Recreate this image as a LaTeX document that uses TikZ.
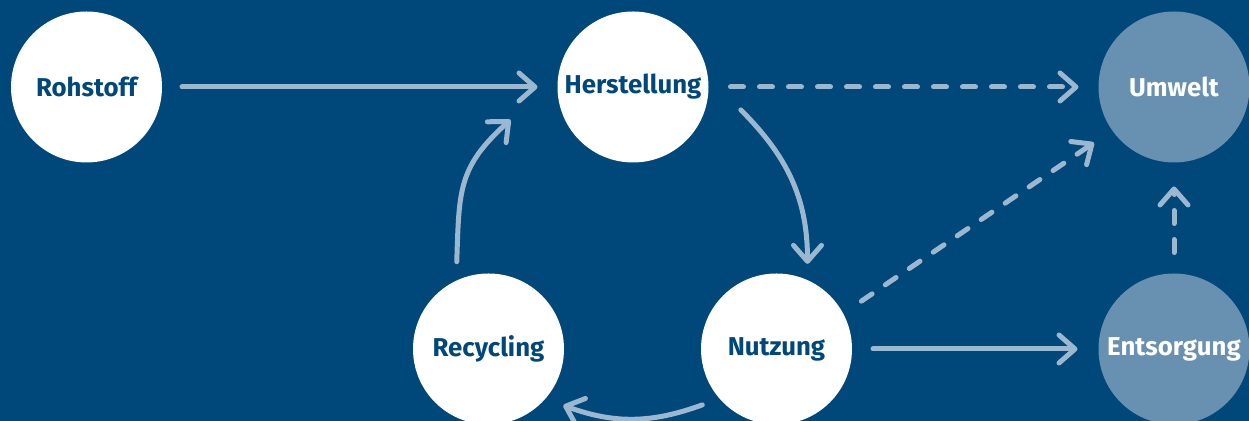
\documentclass[tikz,border=0pt]{standalone}
\usepackage{fontspec}
\setmainfont{Fira Sans}
\usetikzlibrary{arrows.meta,calc}

\definecolor{bgblue}{HTML}{00477A}
\definecolor{flowgray}{HTML}{9BB8D0}
\definecolor{paleblue}{HTML}{6790B1}

\tikzset{
  stage/.style={circle, fill=white, minimum size=75.5pt, inner sep=0pt,
    outer sep=0pt, text=bgblue, font=\fontsize{12.9}{15}\selectfont\bfseries},
  sink/.style={stage, fill=paleblue, text=white},
  flow/.style={flowgray, line width=2.5pt, line cap=round,
    -{Straight Barb[length=8pt,width=14pt,round]}},
  leak/.style={flow, dash pattern=on 6.5pt off 8pt},
}

\begin{document}
\begin{tikzpicture}[x=0.5pt,y=0.5pt]
  % Background
  \fill[bgblue] (0,0) rectangle (1249,421);
  \useasboundingbox (0,0) rectangle (1249,421);

  % Stages of the life cycle
  \node[stage] (rohstoff) at (86.5,334) {Rohstoff};
  \node[stage] (herstellung) at (633,334) {Herstellung};
  \node[stage] (recycling) at (488.5,72) {Recycling};
  \node[stage] (nutzung) at (776.5,72) {Nutzung};
  \node[sink] (umwelt) at (1174,334) {Umwelt};
  \node[sink] (entsorgung) at (1174,72) {Entsorgung};

  % Straight flows
  \draw[flow, shorten <=10pt, shorten >=10pt] (rohstoff) -- (herstellung);
  \draw[flow, shorten <=10.5pt, shorten >=10.5pt] (nutzung) -- (entsorgung);

  % Losses to the environment
  \draw[leak, shorten <=11pt, shorten >=10pt] (herstellung) -- (umwelt);
  \draw[leak, shorten <=11pt, shorten >=11pt] (nutzung.28) -- (umwelt.215);
  \draw[leak, shorten <=10.5pt, shorten >=12pt] (entsorgung) -- (umwelt);

  % Cycle
  \draw[flow] ($(herstellung)!1.46!(herstellung.-12)$)
    to[out=-45, in=90] ($(nutzung)!1.2!(nutzung.70)$);
  \draw[flow] ($(nutzung)!1.23!(nutzung.217)$)
    to[out=200, in=-20] ($(recycling)!1.24!(recycling.-37)$);
  \draw[flow] ($(recycling)!1.23!(recycling.110)$)
    to[out=88, in=222, looseness=1.2] ($(herstellung)!1.68!(herstellung.195)$);
\end{tikzpicture}
\end{document}
